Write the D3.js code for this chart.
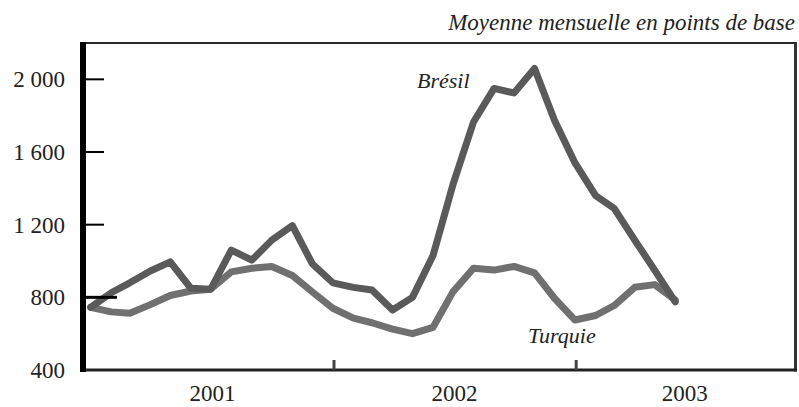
<!DOCTYPE html>
<html>
<head>
<meta charset="utf-8">
<script src="https://cdn.jsdelivr.net/npm/d3@7/dist/d3.min.js"></script>
<style>
  body { margin: 0; background: #fff; }
  svg text { font-family: "Liberation Serif", "Times New Roman", Times, serif !important; fill: #222; }
</style>
</head>
<body>
<div id="chart"></div>
<script>
// monthly averages, spreads in basis points (Dec 2000 - May 2003)
const months = ["2000-12",
    "2001-01", "2001-02", "2001-03", "2001-04", "2001-05", "2001-06",
    "2001-07", "2001-08", "2001-09", "2001-10", "2001-11", "2001-12",
    "2002-01", "2002-02", "2002-03", "2002-04", "2002-05", "2002-06",
    "2002-07", "2002-08", "2002-09", "2002-10", "2002-11", "2002-12",
    "2003-01", "2003-02", "2003-03", "2003-04", "2003-05"];
const bresil = [745, 825, 880, 945, 995, 850, 845, 1060, 1005, 1115, 1195, 985,
    880, 855, 840, 730, 800, 1030, 1420, 1765, 1950, 1925, 2060, 1775, 1540,
    1360, 1290, 1115, 950, 775];
const turquie = [745, 720, 712, 760, 810, 835, 845, 940, 960, 970, 920, 830,
    740, 685, 660, 625, 600, 635, 830, 960, 950, 970, 935, 795, 675,
    700, 755, 855, 870, 785];
const yTicks = [400, 800, 1200, 1600, 2000];
const years = [2001, 2002, 2003];
const title = "Moyenne mensuelle en points de base";

class SpreadChart {
    constructor(width, height) {
        this.width = width;
        this.height = height;
        this.left = 84;
        this.right = 794;
        this.top = 43;
        this.bottom = 370;
        this.fontSize = 23;
    }

    plot(element_id) {
        this.svg = d3.select(element_id).append("svg")
            .attr("width", this.width).attr("height", this.height);
        this.svg.append("rect").attr("width", this.width).attr("height", this.height).attr("fill", "#fff");
        this._setScale();
        this._addLines();
        this._addFrame();
        this._addAxis();
        this._addTexts();
    }

    _monthEnd(m) {
        // values are plotted at the end of their month
        let d = d3.timeParse("%Y-%m")(m);
        return d3.timeDay.offset(d3.timeMonth.offset(d, 1), -1);
    }

    _setScale() {
        this.xScale = d3.scaleTime()
            .domain([new Date(2000, 11, 21), new Date(2003, 10, 26)])
            .range([this.left, this.right]);
        this.yScale = d3.scaleLinear()
            .domain([400, 2200])
            .range([this.bottom, this.top]);
    }

    _addLines() {
        let xScale = this.xScale, yScale = this.yScale;
        let dates = months.map(m => this._monthEnd(m));
        let line = d3.line()
            .x((d, i) => xScale(dates[i]))
            .y(d => yScale(d));
        let g = this.svg.append("g").attr("fill", "none")
            .attr("stroke-width", 7).attr("stroke-linejoin", "round").attr("stroke-linecap", "round");
        g.append("path").datum(turquie).attr("d", line).attr("stroke", "#707070");
        g.append("path").datum(bresil).attr("d", line).attr("stroke", "#5a5a5a");
    }

    _addFrame() {
        let f = this.svg.append("g");
        f.append("line").attr("x1", this.left).attr("x2", this.right + 3)
            .attr("y1", this.top).attr("y2", this.top)
            .attr("stroke", "#2a2a2a").attr("stroke-width", 2);
        f.append("line").attr("x1", this.right + 1.5).attr("x2", this.right + 1.5)
            .attr("y1", this.top).attr("y2", this.bottom + 1.5)
            .attr("stroke", "#333").attr("stroke-width", 3);
    }

    _addAxis() {
        let xScale = this.xScale, yScale = this.yScale;
        let fr = d3.formatLocale({ decimal: ",", thousands: "\u00a0", grouping: [3], currency: ["", ""] });

        // bottom axis with small ticks at year boundaries
        let xAxis = this.svg.append("g")
            .attr("transform", "translate(0," + this.bottom + ")")
            .call(d3.axisBottom(xScale)
                .tickValues([new Date(2002, 0, 1), new Date(2003, 0, 1)])
                .tickSize(-10).tickFormat(""));
        xAxis.select(".domain").attr("d", "M" + this.left + ",0H" + (this.right + 3))
            .attr("stroke", "#222").attr("stroke-width", 3);
        xAxis.selectAll(".tick line").attr("stroke", "#444").attr("stroke-width", 3);

        // year labels centred in the visible part of each year
        let d0 = xScale.domain()[0], d1 = xScale.domain()[1];
        this.svg.append("g").selectAll("text").data(years).enter().append("text")
            .attr("x", y => {
                let a = Math.max(+new Date(y, 0, 1), +d0), b = Math.min(+new Date(y + 1, 0, 1), +d1);
                return (xScale(a) + xScale(b)) / 2;
            })
            .attr("y", 401)
            .attr("text-anchor", "middle").attr("font-size", this.fontSize)
            .text(y => y);

        // left axis: thick line, labels, inner ticks
        let yAxis = this.svg.append("g")
            .attr("transform", "translate(" + (this.left - 1) + ",0)")
            .call(d3.axisLeft(yScale).tickValues(yTicks).tickSize(0).tickPadding(18)
                .tickFormat(fr.format(",")));
        yAxis.attr("font-family", null);
        yAxis.select(".domain").attr("d", "M0," + (this.top - 1) + "V" + (this.bottom + 2))
            .attr("stroke", "#000").attr("stroke-width", 6);
        yAxis.selectAll("text").attr("font-size", this.fontSize).attr("fill", "#222");

        this.svg.append("g").selectAll("line").data(yTicks.filter(v => v > 400)).enter().append("line")
            .attr("x1", this.left + 2)
            .attr("x2", v => v == 800 ? this.left + 33 : this.left + 20)
            .attr("y1", v => yScale(v)).attr("y2", v => yScale(v))
            .attr("stroke", "#000")
            .attr("stroke-width", v => v == 800 ? 3 : 2);
    }

    _addTexts() {
        this.svg.append("text").attr("x", this.right + 1).attr("y", 30)
            .attr("text-anchor", "end").attr("font-style", "italic").attr("font-size", this.fontSize)
            .text(title);
        this.svg.append("text").attr("x", 417).attr("y", 88)
            .attr("font-style", "italic").attr("font-size", 22).text("Brésil");
        this.svg.append("text").attr("x", 528).attr("y", 343)
            .attr("font-style", "italic").attr("font-size", 22).text("Turquie");
    }
}

let chart = new SpreadChart(799, 407);
chart.plot("#chart");
</script>
</body>
</html>
